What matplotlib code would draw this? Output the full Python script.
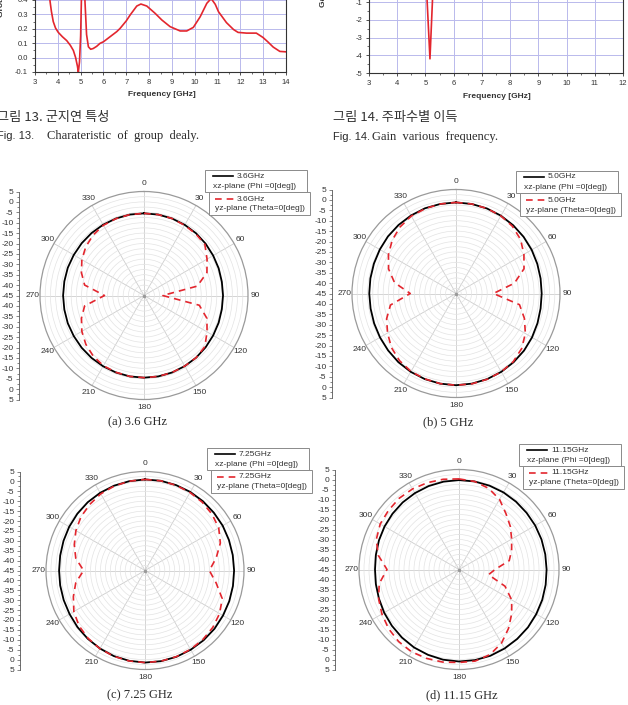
import numpy as np
import matplotlib
matplotlib.use("Agg")
import matplotlib.pyplot as plt
from matplotlib.lines import Line2D
from matplotlib.patches import Rectangle

plt.rcParams['font.family'] = ['Liberation Sans', 'DejaVu Sans']
plt.rcParams['axes.unicode_minus'] = False

W, H = 628, 705

# Fig. 13 - group delay
gd_freq = [3.0, 3.3, 3.55, 3.66, 3.72, 3.8, 3.9, 4.02, 4.2, 4.39, 4.55, 4.68, 4.78, 4.86,
           4.9, 4.95, 5.0, 5.06, 5.12, 5.19, 5.26, 5.34, 5.44, 5.55, 5.7, 5.85, 6.0, 6.29,
           6.58, 6.73, 7.0, 7.17, 7.46, 7.64, 7.9, 8.26, 8.56, 8.92, 9.36, 9.65, 9.94, 10.24,
           10.53, 10.72, 10.9, 11.04, 11.39, 11.7, 11.9, 12.27, 12.7, 12.99, 13.2, 13.44,
           13.73, 14.0]
gd_vals = [1.3, 0.9, 0.6, 0.39, 0.32, 0.25, 0.205, 0.175, 0.145, 0.118, 0.085, 0.05, 0.0,
           -0.06, -0.1, -0.03, 0.15, 0.6, 1.0, 0.39, 0.16, 0.075, 0.058, 0.063, 0.078, 0.099,
           0.11, 0.145, 0.18, 0.203, 0.255, 0.296, 0.358, 0.372, 0.358, 0.308, 0.261, 0.215,
           0.185, 0.185, 0.21, 0.284, 0.377, 0.41, 0.37, 0.319, 0.243, 0.195, 0.175, 0.17,
           0.17, 0.14, 0.11, 0.073, 0.043, 0.04]

# Fig. 14 - gain
gain_freq = [3.0, 3.5, 4.0, 4.5, 4.9, 5.0, 5.16, 5.3, 5.5, 6.0, 7.0, 8.0, 9.0, 10.0, 11.0, 12.0]
gain_vals = [2.0, 2.5, 2.8, 3.0, 2.0, 1.0, -4.2, 1.0, 2.0, 3.0, 3.5, 4.0, 4.0, 4.5, 4.0, 3.5]

# radiation patterns, 0..350 deg every 10 deg, dB
pat_angles = list(range(0, 360, 10))
pat_freqs = ["3.6GHz", "5.0GHz", "7.25GHz", "11.15GHz"]
pat_captions = ["(a) 3.6 GHz", "(b) 5 GHz", "(c) 7.25 GHz", "(d) 11.15 GHz"]

xz_36 = [-5.5, -5.5, -5.6, -5.8, -6.0, -6.3, -6.6, -6.8, -7.0, -7.0, -7.0, -6.8, -6.6, -6.3,
         -6.0, -5.8, -5.6, -5.5, -5.5, -5.5, -5.6, -5.7, -5.8, -5.9, -6.0, -6.0, -6.1, -6.1,
         -6.1, -6.0, -6.0, -5.9, -5.8, -5.7, -5.6, -5.5]
yz_36 = [-5.5, -5.5, -5.6, -6.0, -6.3, -6.8, -10.0, -12.8, -19.0, -36.0, -18.0, -12.8, -10.0,
         -6.8, -6.0, -5.8, -5.6, -5.5, -5.5, -5.5, -5.7, -6.0, -7.0, -8.5, -10.5, -13.0, -16.0,
         -26.0, -16.0, -13.0, -10.5, -8.5, -7.0, -6.0, -5.7, -5.5]

xz_50 = [-1.2, -1.3, -1.5, -1.8, -2.2, -2.6, -3.0, -3.4, -3.7, -3.8, -3.7, -3.3, -2.8, -2.3,
         -1.9, -1.5, -1.2, -1.0, -0.9, -1.0, -1.2, -1.5, -1.9, -2.4, -2.8, -3.1, -3.3, -3.3,
         -3.2, -3.0, -2.7, -2.3, -2.0, -1.7, -1.4, -1.3]
yz_50 = [-1.2, -1.3, -1.5, -1.9, -2.8, -4.5, -7.3, -10.2, -16.5, -27.0, -14.0, -10.0, -6.5,
         -3.8, -2.2, -1.5, -1.1, -0.9, -0.9, -1.0, -1.3, -1.7, -2.8, -4.5, -7.0, -9.5, -13.0,
         -23.0, -15.0, -10.5, -7.5, -5.0, -3.2, -2.0, -1.6, -1.3]

xz_725 = [1.0, 1.0, 0.9, 0.8, 0.6, 0.4, 0.3, 0.1, 0.0, 0.0, 0.1, 0.3, 0.5, 0.8, 1.0, 1.2,
          1.4, 1.5, 1.5, 1.3, 1.0, 0.5, 0.0, -0.5, -1.0, -1.3, -1.5, -1.6, -1.5, -1.2, -0.8,
          -0.4, 0.0, 0.3, 0.6, 0.8]
yz_725 = [1.0, 1.0, 0.8, 0.5, 0.0, -0.8, -2.0, -4.5, -8.5, -12.5, -8.5, -3.5, -1.5, -0.3,
          0.5, 1.0, 1.3, 1.5, 1.5, 1.4, 1.1, 0.6, -0.3, -1.5, -3.5, -6.5, -9.5, -14.0, -9.5,
          -7.0, -4.7, -2.8, -1.5, -0.3, 0.4, 0.8]

xz_1115 = [-0.3, -0.3, -0.4, -0.5, -0.7, -0.9, -1.0, -1.1, -1.2, -1.2, -1.0, -0.7, -0.4,
           0.0, 0.3, 0.6, 0.9, 1.0, 1.0, 0.8, 0.4, 0.0, -0.6, -1.2, -1.8, -2.4, -2.8, -3.0,
           -2.8, -2.4, -2.0, -1.6, -1.2, -0.9, -0.6, -0.4]
yz_1115 = [0.3, -0.3, -1.8, -4.5, -8.5, -11.5, -14.6, -17.0, -19.5, -27.0, -30.0, -20.5,
           -14.6, -10.6, -6.5, -2.5, 0.3, 1.5, 1.5, 2.0, 2.3, 2.5, 2.0, 1.0, -0.5, -2.2, -4.5,
           -9.0, -4.0, -1.0, 0.5, 1.0, 1.5, 1.5, 1.2, 0.8]

xz_sets = [xz_36, xz_50, xz_725, xz_1115]
yz_sets = [yz_36, yz_50, yz_725, yz_1115]

RED = '#e3262e'
GRIDBLUE = '#b9b9ec'


def px_rect(l, t, w, h):
    return [l / W, 1 - (t + h) / H, w / W, h / H]


def ftext(x, y, s, **kw):
    return fig.text(x / W, 1 - y / H, s, **kw)


def style_cartesian(ax):
    ax.grid(True, which='major', color=GRIDBLUE, lw=0.7)
    ax.set_axisbelow(True)
    for sp in ax.spines.values():
        sp.set_color('#333333')
        sp.set_linewidth(0.8)
    ax.tick_params(which='major', direction='out', length=2.5, width=0.6, colors='#333333',
                   labelsize=5.5, pad=2.5)
    ax.tick_params(which='minor', direction='out', length=1.3, width=0.5, colors='#333333')


def draw_legend(x0, y0, freq):
    fig.add_artist(Rectangle((x0 / W, 1 - (y0 + 22) / H), 102 / W, 22 / H,
                             transform=fig.transFigure, facecolor='white',
                             edgecolor='#8a8a8a', lw=0.7))
    fig.add_artist(Rectangle(((x0 + 4) / W, 1 - (y0 + 45) / H), 101 / W, 23 / H,
                             transform=fig.transFigure, facecolor='white',
                             edgecolor='#8a8a8a', lw=0.7))
    fig.add_artist(Line2D([(x0 + 8) / W, (x0 + 28) / W], [1 - (y0 + 6) / H] * 2,
                          transform=fig.transFigure, color='black', lw=1.2))
    fig.add_artist(Line2D([(x0 + 10) / W, (x0 + 29) / W], [1 - (y0 + 29) / H] * 2,
                          transform=fig.transFigure, color=RED, lw=1.2, dashes=(4, 3)))
    kw = dict(fontsize=6, color='#333333', va='center', ha='left')
    ftext(x0 + 32, y0 + 6, freq, **kw)
    ftext(x0 + 8, y0 + 16.5, "xz-plane (Phi =0[deg])", **kw)
    ftext(x0 + 32, y0 + 29, freq, **kw)
    ftext(x0 + 10, y0 + 39, "yz-plane (Theta=0[deg])", **kw)


fig = plt.figure(figsize=(W / 100, H / 100), dpi=100)

# ---- Fig. 13 group delay (top cut off)
ax1 = fig.add_axes(px_rect(35, 72 - 0.8 * 144, 251, 0.8 * 144))
ax1.plot(gd_freq, gd_vals, color=RED, lw=1.2)
ax1.set_xlim(3, 14)
ax1.set_ylim(-0.1, 0.7)
ax1.set_xticks(range(3, 15))
ax1.set_xticks(np.arange(3.5, 14, 1), minor=True)
ax1.set_yticks(np.arange(-0.1, 0.75, 0.1))
ax1.set_yticks(np.arange(-0.05, 0.7, 0.1), minor=True)
ax1.yaxis.set_major_formatter(matplotlib.ticker.FormatStrFormatter('%.1f'))
style_cartesian(ax1)
ftext(162, 95, "Frequency [GHz]", fontsize=6, weight='bold', color='#333333',
      ha='center', va='center')
ftext(2, 17, "Group Delay [ns]", fontsize=6, weight='bold', color='#333333',
      rotation=90, ha='center', va='bottom')

# ---- Fig. 14 gain (top cut off)
ax2 = fig.add_axes(px_rect(369, 73 - 7 * 17.7, 254, 7 * 17.7))
ax2.plot(gain_freq, gain_vals, color=RED, lw=1.2)
ax2.set_xlim(3, 12)
ax2.set_ylim(-5, 2)
ax2.set_xticks(range(3, 13))
ax2.set_xticks(np.arange(3.5, 12, 1), minor=True)
ax2.set_yticks(range(-5, 3))
ax2.set_yticks(np.arange(-4.5, 2, 1), minor=True)
style_cartesian(ax2)
ftext(497, 96, "Frequency [GHz]", fontsize=6, weight='bold', color='#333333',
      ha='center', va='center')
ftext(323, 7, "Gain [dBi]", fontsize=6, weight='bold', color='#333333',
      rotation=90, ha='center', va='bottom')

# ---- captions for Fig. 13 / 14
kr = dict(fontsize=9.5, color='#333333', va='center', ha='left', weight='light',
          family=['Noto Sans CJK KR'])
ftext(-3, 117, "그림 13. 군지연 특성", **kr)
ftext(333, 118, "그림 14. 주파수별 이득", **kr)
lat = dict(fontsize=8, color='#2a2a2a', va='center', ha='left', family=['Liberation Sans'])
ftext(-3, 136, "Fig. 13.", **lat)
ftext(333, 137, "Fig. 14.", **lat)
serif = dict(fontsize=9, color='#2a2a2a', va='center', ha='left', family=['Liberation Serif'])
ftext(47, 136, "Charateristic  of  group  dealy.", **serif)
ftext(372, 137, "Gain  various  frequency.", **serif)

# ---- radiation patterns
panel_geom = [(144, 295.5, 104), (456, 293.5, 104), (145, 570.5, 99), (459, 569.5, 100)]
raxis_x = [19, 332, 20, 335]
legend_xy = [(205, 170), (516, 171), (207, 448), (519, 444)]
caption_xy = [(138, 422), (448, 422), (140, 695), (462, 695)]

theta = np.deg2rad(pat_angles + [360])
for i in range(4):
    cx, cy, R = panel_geom[i]
    ax = fig.add_axes(px_rect(cx - R, cy - R, 2 * R, 2 * R), projection='polar')
    ax.set_theta_zero_location('N')
    ax.set_theta_direction(-1)
    ax.set_ylim(-45, 5)
    ax.set_yticks(np.arange(-42.5, 5, 2.5))
    ax.set_yticklabels([])
    ax.set_thetagrids(range(0, 360, 30), labels=[str(a) for a in range(0, 360, 30)])
    ax.tick_params(axis='x', pad=-5, labelsize=6, labelcolor='#333333')
    ax.xaxis.grid(True, color='#cdcdcd', lw=0.6)
    ax.yaxis.grid(True, color='#e3e3e3', lw=0.5)
    ax.spines['polar'].set_color('#9a9a9a')
    ax.spines['polar'].set_linewidth(0.9)

    xz = xz_sets[i] + [xz_sets[i][0]]
    yz = yz_sets[i] + [yz_sets[i][0]]
    ax.plot(theta, xz, color='black', lw=1.3)
    ax.plot(theta, yz, color=RED, lw=1.2, dashes=(4, 3))
    ax.plot([0], [-45], 'o', color='#999999', ms=1.5)

    # Origin-style radial scale on the left
    axr = fig.add_axes(px_rect(raxis_x[i], cy - R, 1, 2 * R))
    axr.set_ylim(-50, 50)
    axr.patch.set_visible(False)
    for k in ['top', 'right', 'bottom']:
        axr.spines[k].set_visible(False)
    axr.spines['left'].set_color('#555555')
    axr.spines['left'].set_linewidth(0.6)
    axr.set_xticks([])
    vals = np.arange(-50, 51, 5)
    axr.set_yticks(vals)
    axr.set_yticklabels([f"{abs(v) - 45:d}" for v in vals])
    axr.set_yticks(np.arange(-47.5, 50, 5), minor=True)
    axr.tick_params(which='major', direction='out', length=2.5, width=0.5, colors='#555555',
                    labelsize=6, labelcolor='#333333', pad=1.5)
    axr.tick_params(which='minor', direction='out', length=1.3, width=0.5, colors='#555555')

    draw_legend(legend_xy[i][0], legend_xy[i][1], pat_freqs[i])
    ftext(caption_xy[i][0], caption_xy[i][1], pat_captions[i], fontsize=9, color='#2a2a2a',
          ha='center', va='center', family=['Liberation Serif'])

fig.savefig('out.png', dpi=100)
